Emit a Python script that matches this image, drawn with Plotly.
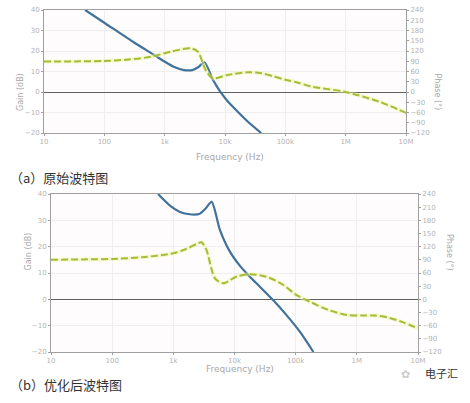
import plotly.graph_objects as go

W, H = 470, 403

# ---------------- data ----------------
tick_vals = [10, 100, 1000, 10000, 100000, 1000000, 10000000]
tick_text = ["10", "100", "1k", "10k", "100k", "1M", "10M"]
gain_ticks = [-20, -10, 0, 10, 20, 30, 40]
phase_ticks = [-120, -90, -60, -30, 0, 30, 60, 90, 120, 150, 180, 210, 240]

# (a) original
freq_a_gain = [48, 100, 316, 676, 977, 1410, 2090, 2880, 3630, 4570, 6170, 7240, 8510,
               10700, 13500, 24000, 39800]
gain_a = [40, 33.8, 24, 18, 15, 12.3, 10.7, 10.7, 12.2, 14.5, 6.5, 3.0, -0.2,
          -4.0, -7.2, -14.5, -20]
freq_a_phase = [10, 32, 100, 251, 589, 1260, 2690, 3550, 4790, 6310, 11000, 24000,
                39800, 63100, 100000, 158000, 269000, 1000000, 3550000, 10000000]
phase_a = [89, 89.5, 91, 95, 103, 118, 128, 118, 64, 40, 50, 57.6,
           55, 46, 36, 28, 16, 0, -28, -61]

# (b) optimised
freq_b_gain = [562, 891, 1260, 1740, 2630, 3310, 4230, 5750, 8410, 12200, 17800,
               26000, 42700, 70800, 117000, 195000]
gain_b = [40, 35.5, 33.3, 32.4, 32.4, 34.3, 37, 26.5, 18.1, 12.8, 8.6,
          4.8, -0.3, -6.0, -12.3, -20]
freq_b_phase = [10, 32, 100, 316, 1000, 1580, 2400, 2880, 3470, 4790, 6610, 10700,
                17800, 33100, 63100, 102000, 170000, 339000, 708000, 1200000,
                2000000, 3160000, 5620000, 10000000]
phase_b = [90, 91, 92, 96, 105, 114, 126, 130, 113, 48, 36.6, 51.6,
           57, 51.6, 32.7, 10, -5.3, -24, -36, -37, -37, -41, -52, -66]

captions = ["（a）原始波特图", "（b）优化后波特图"]

# ---------------- styling / layout ----------------
GAIN_C = "#41729b"
PHASE_C = "#a3bd3a"
GLOW_C = "rgba(240,245,160,0.45)"
TICK_FONT = dict(family="DejaVu Sans", size=7, color="#b3b3b3")


def px(x):
    return x / W


def py(y):
    return 1 - y / H


fig = go.Figure()

panels = [
    dict(x="x", yg="y", yp="y2", fg=freq_a_gain, g=gain_a, fp=freq_a_phase, p=phase_a),
    dict(x="x2", yg="y3", yp="y4", fg=freq_b_gain, g=gain_b, fp=freq_b_phase, p=phase_b),
]
for pnl in panels:
    fig.add_trace(go.Scatter(x=pnl["fp"], y=pnl["p"], xaxis=pnl["x"], yaxis=pnl["yp"],
                             mode="lines", line=dict(color=GLOW_C, width=4, shape="spline", smoothing=0.8),
                             hoverinfo="skip", showlegend=False))
    fig.add_trace(go.Scatter(x=pnl["fp"], y=pnl["p"], xaxis=pnl["x"], yaxis=pnl["yp"],
                             mode="lines", line=dict(color=PHASE_C, width=2, dash="7px,3px",
                                                     shape="spline", smoothing=0.8),
                             name="Phase", showlegend=False))
    fig.add_trace(go.Scatter(x=pnl["fg"], y=pnl["g"], xaxis=pnl["x"], yaxis=pnl["yg"],
                             mode="lines", line=dict(color=GAIN_C, width=2.2, shape="spline", smoothing=0.7),
                             name="Gain", showlegend=False))

common_x = dict(type="log", range=[1, 7], tickvals=tick_vals, ticktext=tick_text,
                tickfont=TICK_FONT, showgrid=True, gridcolor="#f0eeee",
                showline=True, linecolor="#a0a0a0", linewidth=1, mirror=True,
                ticks="outside", ticklen=2, tickcolor="#a0a0a0", zeroline=False,
                automargin=False)
common_g = dict(range=[-20, 40], tickvals=gain_ticks, tickfont=TICK_FONT,
                showgrid=True, gridcolor="#f0eeee", showline=True, linecolor="#a0a0a0",
                linewidth=1, ticks="outside", ticklen=2, tickcolor="#a0a0a0",
                zeroline=True, zerolinecolor="#606060", zerolinewidth=1.3, automargin=False)
common_p = dict(range=[-120, 240], tickvals=phase_ticks, tickfont=TICK_FONT,
                showgrid=False, showline=True, linecolor="#a0a0a0", linewidth=1,
                ticks="outside", ticklen=2, tickcolor="#a0a0a0", zeroline=False, side="right",
                automargin=False)

fig.update_layout(
    width=W, height=H,
    margin=dict(l=0, r=0, t=0, b=0),
    paper_bgcolor="white", plot_bgcolor="#fefcfc",
    xaxis=dict(common_x, domain=[px(44), px(406)], anchor="y"),
    yaxis=dict(common_g, domain=[py(133), py(10)], anchor="x"),
    yaxis2=dict(common_p, overlaying="y", anchor="x"),
    xaxis2=dict(common_x, domain=[px(51), px(418)], anchor="y3"),
    yaxis3=dict(common_g, domain=[py(352), py(194)], anchor="x2"),
    yaxis4=dict(common_p, overlaying="y3", anchor="x2"),
)

TITLE_FONT = dict(family="DejaVu Sans", size=8, color="#a8a8a8")
ann = []
for (xl, xr, yt, yb, cap) in [(44, 406, 10, 133, captions[0]), (51, 418, 194, 352, captions[1])]:
    ann.append(dict(x=px((xl + xr) / 2 + 5), y=py(yb + 24), text="Frequency (Hz)",
                    font=dict(family="DejaVu Sans", size=9, color="#a8a8a8")))
    ann.append(dict(x=px(xl - 30), y=py((yt + yb) / 2), text="Gain (dB)", textangle=-90,
                    font=TITLE_FONT))
    ann.append(dict(x=px(xr + 38), y=py((yt + yb) / 2), text="Phase (°)", textangle=90,
                    font=TITLE_FONT))
    ann.append(dict(x=px(8), y=py(yb + 44), text=cap, xanchor="left",
                    font=dict(family="Noto Sans CJK SC", size=13, color="#333333")))
ann.append(dict(x=px(423), y=py(383), text="电子汇", xanchor="left",
                font=dict(family="Noto Sans CJK SC", size=11, color="#333333")))
ann.append(dict(x=px(412), y=py(383), text="✿", font=dict(size=11, color="#cccccc")))
for a in ann:
    a.setdefault("xref", "paper")
    a.setdefault("yref", "paper")
    a.setdefault("showarrow", False)
fig.update_layout(annotations=ann)

fig.write_html("out.html", config={"displayModeBar": False},
               post_script="document.body.style.margin='0px';document.body.style.overflow='hidden';")
